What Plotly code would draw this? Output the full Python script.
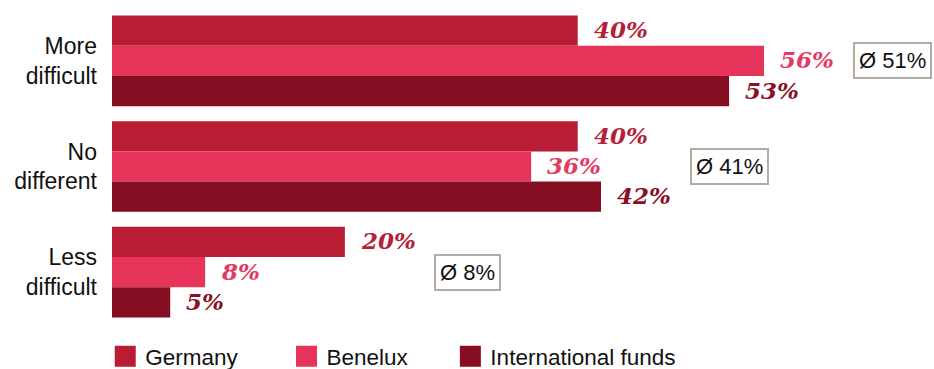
import plotly.graph_objects as go

# Survey answers per region (share of respondents, %)
categories = ["More<br>difficult", "No<br>different", "Less<br>difficult"]
germany = [40, 40, 20]
benelux = [56, 36, 8]
international = [53, 42, 5]
averages = [51, 41, 8]

series_names = ["Germany", "Benelux", "International funds"]
bar_colors = ["#B81D33", "#E5335A", "#850E22"]
label_colors = ["#B51F37", "#E43A62", "#891026"]

W, H = 934, 369
M = dict(l=112, r=7, t=8, b=44, pad=0, autoexpand=False)
X_MAX = 70
BARGAP = 0.142
NBSP = "\u00a0"
legend_pad = [7, 6, 0]

fig = go.Figure()
all_series = [germany, benelux, international]
for name, vals, col, npad in zip(series_names, all_series, bar_colors, legend_pad):
    fig.add_trace(go.Bar(
        y=categories, x=vals, orientation="h", name=name,
        marker=dict(color=col, line=dict(width=0)),
        showlegend=False, hoverinfo="skip",
    ))
    # legend swatch (larger square than the default bar icon)
    fig.add_trace(go.Scatter(
        x=[None], y=[None], mode="markers", name=name + NBSP * npad,
        marker=dict(symbol="square", size=16, color=col,
                    line=dict(color=col, width=5)),
        showlegend=True,
    ))

# vertical pixel offset of each bar inside its group
plot_h = H - M["t"] - M["b"]
pitch = plot_h / len(categories)
bar_h = pitch * (1 - BARGAP) / len(all_series)
offsets = [bar_h, 0, -bar_h]

annotations = []
for vals, col, dy in zip(all_series, label_colors, offsets):
    for cat, v in zip(categories, vals):
        annotations.append(dict(
            x=v, y=cat, xref="x", yref="y", text=f"{v}%",
            showarrow=False, xanchor="left", yanchor="middle",
            xshift=14, yshift=dy + 1,
            font=dict(family="DejaVu Serif", size=23, color=col,
                      weight="bold", style="italic"),
        ))

# average boxes, placed after the longest bar of each group
for i, cat in enumerate(categories):
    longest = max(s[i] for s in all_series)
    annotations.append(dict(
        x=longest, y=cat, xref="x", yref="y", text=f"Ø {averages[i]}%",
        showarrow=False, xanchor="left", yanchor="middle",
        xshift=89, yshift=0, height=25,
        font=dict(family="Liberation Sans", size=22, color="#111111"),
        bordercolor="#B4ABA2", borderwidth=2, borderpad=4,
        bgcolor="white",
    ))

fig.update_layout(
    width=W, height=H, margin=M,
    paper_bgcolor="white", plot_bgcolor="white",
    barmode="group", bargap=BARGAP, bargroupgap=0,
    font=dict(family="Liberation Sans", size=22, color="#111111"),
    xaxis=dict(range=[0, X_MAX], visible=False, fixedrange=True),
    yaxis=dict(autorange="reversed", showgrid=False, zeroline=False,
               showline=False, ticks="", ticklabelstandoff=14,
               tickfont=dict(family="Liberation Sans", size=23, color="#111111")),
    legend=dict(orientation="h", x=-0.0083, xanchor="left",
                y=-(335 - (H - M["b"])) / plot_h, yanchor="top",
                font=dict(family="Liberation Sans", size=22.5, color="#111111"),
                bgcolor="rgba(0,0,0,0)"),
    annotations=annotations,
)

fig.write_html("out.html")
